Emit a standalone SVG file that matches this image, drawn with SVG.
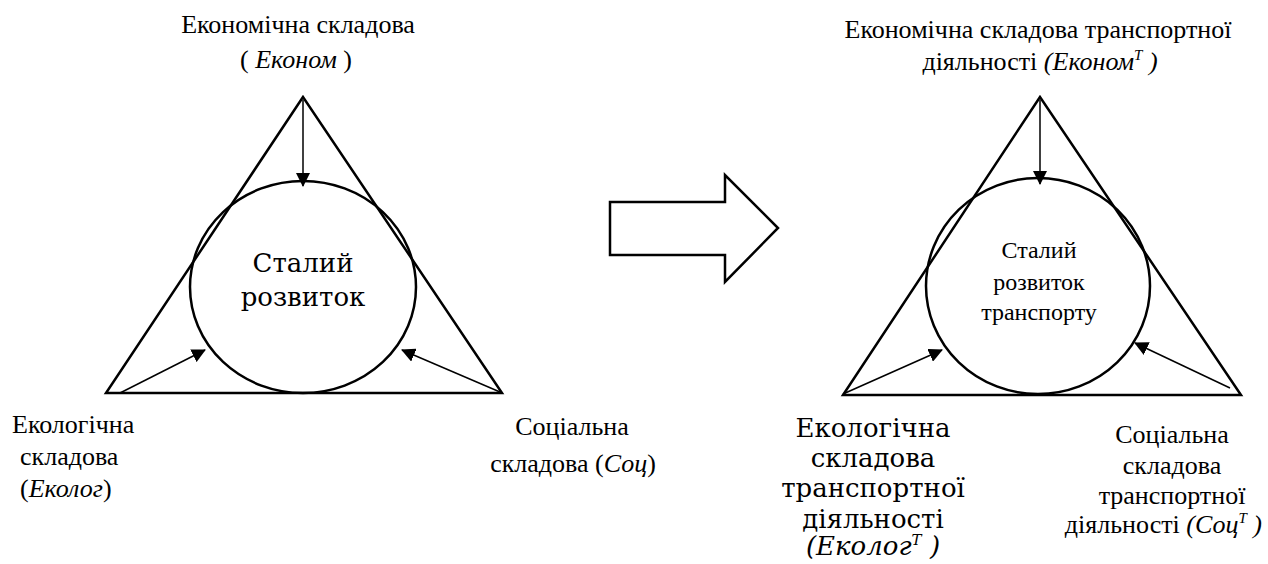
<svg xmlns="http://www.w3.org/2000/svg" width="1268" height="564" viewBox="0 0 1268 564">
<style>
.a{font-family:'Times New Roman'}
.b{font-family:serif}
.d{font-family:'DejaVu Serif'}
.f{font-family:'Liberation Serif'}
.sh{fill:none;stroke:#000;stroke-width:2.5}
.ln{fill:none;stroke:#000;stroke-width:1.5}
</style>
<defs>
<marker id="ah2" markerWidth="14" markerHeight="14" refX="13" refY="7" orient="auto" markerUnits="userSpaceOnUse" viewBox="0 0 14 14">
<path d="M0,0 L14,7 L0,14 z" fill="#000"/>
</marker>
</defs>
<g id="left-triangle">
<polygon class="sh" points="303,97 106,393 502,393"/>
<ellipse class="sh" cx="303" cy="287" rx="113" ry="106"/>
<text class="d" font-size="26" x="303" y="272" text-anchor="middle">Сталий</text>
<text class="d" font-size="26" x="303" y="306" text-anchor="middle">розвиток</text>
</g>
<g id="left-econ">
<text class="b" font-size="26" x="298" y="33" text-anchor="middle">Економічна складова</text>
<text class="b" font-size="26" x="296" y="68" text-anchor="middle">( <tspan font-style="italic">Економ</tspan> )</text>
</g>
<g id="left-eco">
<text class="a" font-size="26" x="12" y="433">Екологічна</text>
<text class="a" font-size="26" x="20" y="465">складова</text>
<text class="a" font-size="26" x="20" y="497">(<tspan font-style="italic">Еколог</tspan>)</text>
</g>
<g id="left-soc">
<text class="f" font-size="26" x="572" y="435" text-anchor="middle">Соціальна</text>
<text class="f" font-size="26" x="573" y="472" text-anchor="middle">складова (<tspan font-style="italic">Соц</tspan>)</text>
</g>
<g id="big-arrow">
<polygon class="sh" points="610,202 725,202 725,175 778,228 725,282 725,255 610,255"/>
</g>
<g id="right-triangle">
<polygon class="sh" points="1040,97 843,395 1241,395"/>
<ellipse class="sh" cx="1038" cy="286" rx="112" ry="108"/>
<text font-family="Times New Roman" font-size="24" x="1039" y="258" text-anchor="middle">Сталий</text>
<text font-family="Times New Roman" font-size="24" x="1039" y="290" text-anchor="middle">розвиток</text>
<text font-family="Times New Roman" font-size="24" x="1039" y="320" text-anchor="middle">транспорту</text>
</g>
<g id="right-econ">
<text font-family="serif" font-size="26" x="1038" y="38" text-anchor="middle">Економічна складова транспортної</text>
<text font-family="serif" font-size="26" x="1040" y="70" text-anchor="middle">діяльності <tspan font-style="italic">(Економ</tspan><tspan font-style="italic" font-size="15" dy="-10">T</tspan><tspan font-style="italic" dy="10"> )</tspan></text>
</g>
<g id="right-eco">
<text font-family="DejaVu Serif" font-size="26" x="873" y="437" text-anchor="middle">Екологічна</text>
<text font-family="DejaVu Serif" font-size="26" x="873" y="467" text-anchor="middle">складова</text>
<text font-family="DejaVu Serif" font-size="26" x="873" y="497" text-anchor="middle">транспортної</text>
<text font-family="DejaVu Serif" font-size="26" x="873" y="528" text-anchor="middle">діяльності</text>
<text font-family="DejaVu Serif" font-size="26" x="873" y="555" text-anchor="middle"><tspan font-style="italic">(Еколог</tspan><tspan font-style="italic" font-size="15" dy="-10">T</tspan><tspan font-style="italic" dy="10"> )</tspan></text>
</g>
<g id="right-soc">
<text style="font-family:'Liberation Serif';font-size:26px" x="1172" y="443" text-anchor="middle">Соціальна</text>
<text style="font-family:'Liberation Serif';font-size:26px" x="1172" y="474" text-anchor="middle">складова</text>
<text style="font-family:'Liberation Serif';font-size:26px" x="1172" y="504" text-anchor="middle">транспортної</text>
<text style="font-family:'Liberation Serif';font-size:26px" x="1262" y="533" text-anchor="end">діяльності <tspan font-style="italic">(Соц</tspan><tspan font-style="italic" font-size="15" dy="-10">T</tspan><tspan font-style="italic" dy="10"> )</tspan></text>
</g>
<g id="connectors">
<line class="ln" x1="303" y1="100" x2="303" y2="186" marker-end="url(#ah2)"/>
<line class="ln" x1="120" y1="393" x2="205" y2="350" marker-end="url(#ah2)"/>
<line class="ln" x1="500" y1="392" x2="402" y2="350" marker-end="url(#ah2)"/>
<line class="ln" x1="1040" y1="100" x2="1040" y2="184" marker-end="url(#ah2)"/>
<line class="ln" x1="843" y1="394" x2="942" y2="350" marker-end="url(#ah2)"/>
<line class="ln" x1="1230" y1="388" x2="1135" y2="343" marker-end="url(#ah2)"/>
</g>
</svg>
